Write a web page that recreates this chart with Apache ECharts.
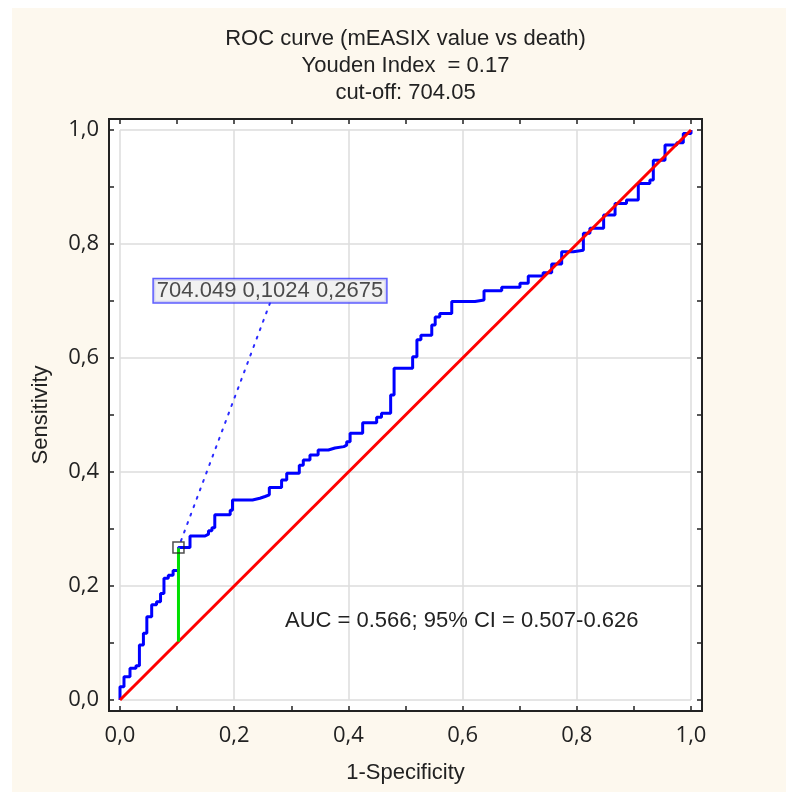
<!DOCTYPE html>
<html>
<head>
<meta charset="utf-8">
<script src="https://cdn.jsdelivr.net/npm/echarts@6/dist/echarts.min.js"></script>
<style>
  html, body { margin: 0; padding: 0; background: #fff; }
  #chart { width: 786px; height: 792px; }
</style>
</head>
<body>
<div id="chart"></div>
<script>
// ROC staircase: go right to fpr[i], then up to tpr[i]
const fpr = [0, 0, 0.007, 0.0175, 0.028, 0.034, 0.041, 0.047, 0.0555, 0.064, 0.071, 0.077, 0.0846, 0.093,
  0.1024, 0.1226, 0.149, 0.155, 0.161, 0.166, 0.193, 0.197, 0.232, 0.245, 0.254, 0.2615, 0.283, 0.292,
  0.314, 0.321, 0.3327, 0.347, 0.365, 0.3765, 0.392, 0.397, 0.403, 0.425, 0.4495, 0.458, 0.474, 0.48,
  0.5125, 0.52, 0.527, 0.546, 0.552, 0.56, 0.581, 0.6217, 0.6375, 0.6685, 0.7005, 0.715, 0.741, 0.756,
  0.7735, 0.794, 0.8115, 0.823, 0.847, 0.867, 0.887, 0.9077, 0.928, 0.934, 0.9545, 0.975, 0.9865, 1];
const tpr = [0, 0.0234, 0.041, 0.0556, 0.06, 0.0965, 0.117, 0.146, 0.167, 0.1725, 0.187, 0.2135, 0.219, 0.227,
  0.2675, 0.2877, 0.291, 0.297, 0.302, 0.325, 0.333, 0.351, 0.354, 0.357, 0.36, 0.373, 0.386, 0.3977,
  0.412, 0.421, 0.43, 0.4386, 0.442, 0.4445, 0.447, 0.453, 0.468, 0.4865, 0.496, 0.503, 0.535, 0.582,
  0.602, 0.632, 0.64, 0.658, 0.672, 0.678, 0.699, 0.7018, 0.718, 0.724, 0.731, 0.744, 0.7497, 0.765,
  0.7865, 0.789, 0.8187, 0.8275, 0.851, 0.871, 0.877, 0.906, 0.9123, 0.947, 0.9737, 0.9777, 0.994, 1];
const chanceLine = [0, 1];
const cutoffPoint = [0.1024, 0.2675];
const cutoffValue = 704.049;
const titleLines = ["ROC curve (mEASIX value vs death)", "Youden Index  = 0.17", "cut-off: 704.05"];
const aucText = "AUC = 0.566; 95% CI = 0.507-0.626";

// where the call-out box sits (data units)
const calloutAt = [0.2627, 0.718];
const leaderFrom = [0.2627, 0.6965];

const W = 786, H = 792;
const G = { left: 120, top: 130, right: 95, bottom: 92 };
const PAD = 11;
const FS = 22;
const FONT = '"Liberation Sans", Arial, sans-serif';
const TEXT = "#222";
const INK = "#222";
const comma = (v) => v.toFixed(1).replace(".", ",");

const ticks = {
  axisLine: { show: true, onZero: false, lineStyle: { color: INK, width: 2 } },
  axisTick: { show: true, inside: true, length: 5, lineStyle: { color: INK, width: 1.5 } },
  minorTick: { show: true, splitNumber: 2, length: 5, lineStyle: { color: INK, width: 1.5 } }
};
const mainAxis = (position, name, nameGap, extra) => ({
  type: "value", min: 0, max: 1, interval: 0.2, position, offset: PAD, ...ticks,
  axisLabel: { formatter: comma, fontSize: FS, color: TEXT, fontFamily: '"Open Sans", sans-serif', ...extra },
  splitLine: { show: true, lineStyle: { color: "#dcdcdc", width: 1.5 } },
  name, nameLocation: "middle", nameGap,
  nameTextStyle: { fontSize: FS, color: TEXT }
});
const mirrorAxis = (position) => ({
  type: "value", min: 0, max: 1, interval: 0.2, position, offset: PAD, ...ticks,
  axisLabel: { show: false }, splitLine: { show: false }
});

const chart = echarts.init(document.getElementById("chart"), null, { renderer: "canvas" });
const frameW = W - G.left - G.right + 2 * PAD;
const frameH = H - G.top - G.bottom + 2 * PAD;
const textGraphic = (text, x, y, align) => ({
  type: "text", z: 50, silent: true, x, y,
  style: { text, font: `${FS}px ${FONT}`, fill: TEXT, align, verticalAlign: "middle" }
});

chart.setOption({
  backgroundColor: "#fff",
  animation: false,
  textStyle: { fontFamily: FONT },
  grid: { left: G.left, top: G.top, right: G.right, bottom: G.bottom, containLabel: false },
  graphic: [
    { type: "rect", z: -20, silent: true, shape: { x: 12, y: 8, width: W - 12, height: H - 8 }, style: { fill: "#fdf8ee" } },
    { type: "rect", z: -10, silent: true, shape: { x: G.left - PAD, y: G.top - PAD, width: frameW, height: frameH }, style: { fill: "#fff" } },
    { type: "rect", z: 50, silent: true, shape: { x: G.left - PAD, y: G.top - PAD, width: frameW, height: frameH }, style: { fill: null, stroke: INK, lineWidth: 2 } },
    ...titleLines.map((t, i) => textGraphic(t, G.left - PAD + frameW / 2, 39 + i * 27, "center")),
    textGraphic(aucText, 285, 621, "left")
  ],
  xAxis: [mainAxis("bottom", "1-Specificity", 51, { margin: 14 }), mirrorAxis("top")],
  yAxis: [mainAxis("left", "Sensitivity", 57, { margin: 10 }), mirrorAxis("right")],
  series: [
    {
      name: "ROC", type: "line", step: "end", symbol: "none", z: 3,
      data: fpr.map((x, i) => [x, tpr[i]]),
      lineStyle: { color: "#0000ff", width: 3 }
    },
    {
      name: "chance", type: "line", symbol: "none", z: 4,
      data: chanceLine.map((v) => [v, v]),
      lineStyle: { color: "#ff0000", width: 3 }
    },
    {
      name: "youden", type: "line", symbol: "none", z: 5,
      data: [[cutoffPoint[0], cutoffPoint[0]], cutoffPoint],
      lineStyle: { color: "#00e000", width: 3 }
    },
    {
      name: "leader", type: "line", symbol: "none", z: 5,
      data: [leaderFrom, cutoffPoint],
      lineStyle: { color: "#2a2aff", width: 2, type: [2, 7], cap: "round" }
    },
    {
      name: "cutoff", type: "scatter", symbol: "rect", symbolSize: 11, z: 6,
      data: [cutoffPoint],
      itemStyle: { color: "rgba(0,0,0,0)", borderColor: "#222", borderWidth: 1.5 }
    },
    {
      name: "callout", type: "scatter", symbolSize: 0, z: 7,
      data: [calloutAt],
      label: {
        show: true, position: "inside",
        formatter: () => `${cutoffValue} ${cutoffPoint[0].toFixed(4).replace(".", ",")} ${cutoffPoint[1].toFixed(4).replace(".", ",")}`,
        fontSize: FS, color: TEXT, fontFamily: FONT,
        backgroundColor: "#eeeeee", borderColor: "#3535ff", borderWidth: 1.5, padding: [1, 3, 0, 3]
      }
    }
  ]
});
</script>
</body>
</html>
